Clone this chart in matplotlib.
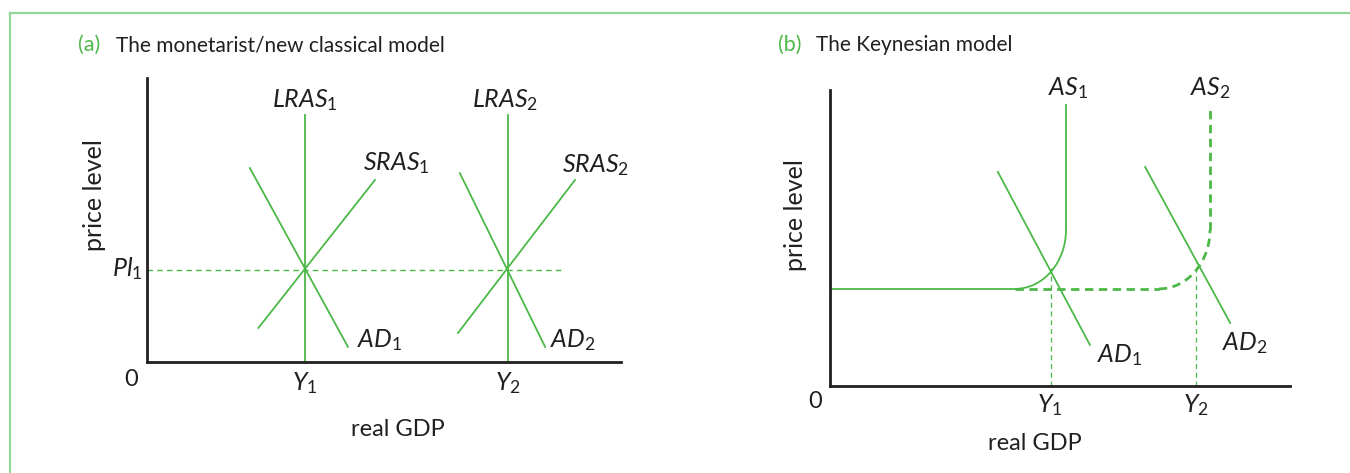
import matplotlib
matplotlib.use("Agg")
import matplotlib.pyplot as plt
from matplotlib.lines import Line2D
from matplotlib.patches import Arc

# ---------------- data (diagram units 0..10) ----------------
# Panel (a): monetarist / new classical
a_lras_x = [3.33, 7.62]          # LRAS1, LRAS2 positions (Y1, Y2)
a_lras_top = 8.7
a_pl1 = 3.24                      # price level PL1
a_pl1_end = 8.76
a_sras1_x = [2.35, 4.81]; a_sras1_y = [1.20, 6.41]
a_ad1_x = [2.17, 4.24];   a_ad1_y = [6.83, 0.53]
a_sras2_x = [6.56, 9.03]; a_sras2_y = [1.02, 6.41]
a_ad2_x = [6.60, 8.40];   a_ad2_y = [6.65, 0.53]

# Panel (b): Keynesian
b_as_flat_y = 3.28                # horizontal part of AS
b_as_flat_start = 0.0
b_as1_kink_x = 4.02               # where AS1 starts to bend
b_as1_vert_x = 5.13               # vertical part of AS1
b_as2_kink_x = 7.15
b_as2_vert_x = 8.26
b_bend_top = 5.27                 # where bend becomes vertical
b_as_top = 9.49
b_ad1_x = [3.65, 5.65]; b_ad1_y = [7.23, 1.39]
b_ad2_x = [6.85, 8.70]; b_ad2_y = [7.40, 2.13]
b_eq_x = [4.80, 7.96]             # Y1, Y2
b_eq_y = [3.99, 4.16]

# ---------------- style ----------------
GREEN = "#4cb848"
DARK = "#231f20"
BORDER = "#93d89a"
FONT = "Lato"

plt.rcParams["font.family"] = [FONT, "DejaVu Sans"]
plt.rcParams["mathtext.fontset"] = "custom"
plt.rcParams["mathtext.rm"] = FONT
plt.rcParams["mathtext.it"] = FONT + ":italic"

W, H = 1350, 473
fig = plt.figure(figsize=(W / 100, H / 100), dpi=100)

# light green frame
fig.add_artist(Line2D([10 / W, 1], [1 - 13 / H, 1 - 13 / H], color=BORDER, lw=1.6))
fig.add_artist(Line2D([10 / W, 10 / W], [0, 1 - 13 / H], color=BORDER, lw=1.6))

LW = 1.3
LAB = 18      # curve labels
AXL = 17      # axis labels


def setup(ax):
    ax.set_xlim(0, 10)
    ax.set_ylim(0, 10)
    for s in ["top", "right"]:
        ax.spines[s].set_visible(False)
    for s in ["left", "bottom"]:
        ax.spines[s].set_color(DARK)
        ax.spines[s].set_linewidth(2.0)
    ax.set_xticks([])
    ax.set_yticks([])
    ax.patch.set_alpha(0)


def lab(ax, x, y, s, size=LAB, **kw):
    kw.setdefault("ha", "center")
    kw.setdefault("va", "center")
    ax.text(x, y, s, fontsize=size, color=DARK, clip_on=False, **kw)


# ---------------- panel (a) ----------------
axa = fig.add_axes([147 / W, 1 - 362 / H, 474 / W, 284 / H])
setup(axa)
for x in a_lras_x:
    axa.plot([x, x], [0, a_lras_top], color=GREEN, lw=LW)
axa.plot([0, a_pl1_end], [a_pl1, a_pl1], color=GREEN, lw=1.0, ls=(0, (4, 3)))
axa.plot(a_sras1_x, a_sras1_y, color=GREEN, lw=LW)
axa.plot(a_ad1_x, a_ad1_y, color=GREEN, lw=LW)
axa.plot(a_sras2_x, a_sras2_y, color=GREEN, lw=LW)
axa.plot(a_ad2_x, a_ad2_y, color=GREEN, lw=LW)

lab(axa, 3.33, 9.23, r"$LRAS_{\mathrm{1}}$")
lab(axa, 7.55, 9.23, r"$LRAS_{\mathrm{2}}$")
lab(axa, 5.27, 7.0, r"$SRAS_{\mathrm{1}}$")
lab(axa, 9.47, 6.94, r"$SRAS_{\mathrm{2}}$")
lab(axa, 4.90, 0.77, r"$AD_{\mathrm{1}}$")
lab(axa, 8.98, 0.77, r"$AD_{\mathrm{2}}$")
lab(axa, 3.33, -0.74, r"$Y_{\mathrm{1}}$")
lab(axa, 7.62, -0.74, r"$Y_{\mathrm{2}}$")
lab(axa, -0.34, -0.63, "0", size=AXL)
lab(axa, -0.42, 3.30, r"$Pl_{\mathrm{1}}$")
lab(axa, -1.10, 5.88, "price level", size=AXL + 1, rotation=90)
lab(axa, 5.30, -2.39, "real GDP", size=AXL)

# ---------------- panel (b) ----------------
axb = fig.add_axes([830 / W, 1 - 386 / H, 460 / W, 296 / H])
setup(axb)
rx = b_as1_vert_x - b_as1_kink_x
ry = b_bend_top - b_as_flat_y
# AS1 (solid)
axb.plot([b_as_flat_start, b_as1_kink_x], [b_as_flat_y, b_as_flat_y], color=GREEN, lw=LW)
axb.add_patch(Arc((b_as1_kink_x, b_bend_top), 2 * rx, 2 * ry, theta1=270, theta2=360,
                  color=GREEN, lw=LW))
axb.plot([b_as1_vert_x, b_as1_vert_x], [b_bend_top, b_as_top], color=GREEN, lw=LW)
# AS2 (dashed)
DASH = (0, (3, 2))
axb.plot([b_as1_kink_x, b_as2_kink_x], [b_as_flat_y, b_as_flat_y], color=GREEN, lw=2.0, ls=DASH)
axb.add_patch(Arc((b_as2_kink_x, b_bend_top), 2 * rx, 2 * ry, theta1=270, theta2=360,
                  color=GREEN, lw=2.0, ls=DASH))
axb.plot([b_as2_vert_x, b_as2_vert_x], [b_bend_top, b_as_top], color=GREEN, lw=2.0, ls=DASH)
# AD curves
axb.plot(b_ad1_x, b_ad1_y, color=GREEN, lw=LW)
axb.plot(b_ad2_x, b_ad2_y, color=GREEN, lw=LW)
# guide lines
for x, y in zip(b_eq_x, b_eq_y):
    axb.plot([x, x], [0, y], color=GREEN, lw=0.9, ls=(0, (4, 3)))

lab(axb, 5.17, 10.07, r"$AS_{\mathrm{1}}$")
lab(axb, 8.26, 10.07, r"$AS_{\mathrm{2}}$")
lab(axb, 6.30, 1.05, r"$AD_{\mathrm{1}}$")
lab(axb, 9.02, 1.45, r"$AD_{\mathrm{2}}$")
lab(axb, 4.78, -0.64, r"$Y_{\mathrm{1}}$")
lab(axb, 7.96, -0.64, r"$Y_{\mathrm{2}}$")
lab(axb, -0.33, -0.54, "0", size=AXL)
lab(axb, -0.76, 5.78, "price level", size=AXL + 1, rotation=90)
lab(axb, 4.46, -1.93, "real GDP", size=AXL)

# ---------------- titles ----------------
for xpix, tag, title in [(78, "(a)", "The monetarist/new classical model"),
                         (778, "(b)", "The Keynesian model")]:
    fig.text(xpix / W, 1 - 45 / H, tag, color=GREEN, fontsize=15.5, va="center", ha="left")
    fig.text((xpix + 38) / W, 1 - 45 / H, title, color=DARK, fontsize=15, va="center", ha="left")

fig.savefig("out.png", dpi=100)
